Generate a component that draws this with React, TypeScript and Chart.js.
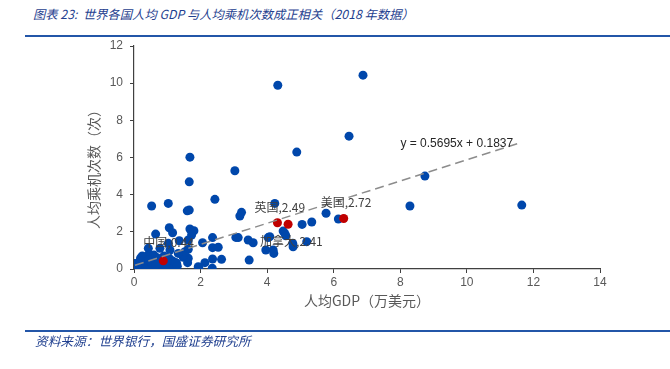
import React, { useEffect, useRef } from "react";
import { Chart, registerables } from "chart.js";

Chart.register(...registerables);

// ---- Data ----
const gdpPerCapita = [
  6.88, 4.32, 6.46, 4.89, 1.68, 1.66, 8.74, 3.03, 2.43, 8.29, 11.65, 4.23, 5.77, 6.14, 0.53, 1.03, 1.6, 1.66, 3.18, 3.23,
  5.05, 5.34, 4.48, 4.53, 4.56, 4.77, 4.78, 5.19, 4.03, 4.08, 3.96, 4.18, 4.2, 3.46, 3.43, 3.58, 3.06, 3.13, 2.36, 2.06,
  2.36, 2.53, 2.36, 2.63, 2.13, 1.95, 1.06, 1.16, 0.65, 1.36, 1.68, 1.8, 1.73, 1.63, 1.63, 1.63, 1.48, 1.28, 1.03, 0.78,
  1.08, 0.43, 0.48, 1.53, 1.33, 1.61, 2.35, 1.93,
  0.05, 0.1, 0.15, 0.2, 0.25, 0.3, 0.35, 0.4, 0.45, 0.5, 0.55, 0.6, 0.65, 0.7, 0.75, 0.8, 0.85, 0.9, 0.95, 1.0,
  1.05, 1.1, 1.15, 1.2, 0.3, 0.2, 0.15, 0.4, 0.55, 0.7, 0.25, 0.6, 0.5, 0.12, 0.08, 0.35, 0.45, 0.75, 0.95, 1.0,
  1.25, 1.3, 0.9, 0.65, 0.18, 0.02,
];
const tripsPerCapita = [
  10.43, 9.89, 7.15, 6.29, 6.02, 4.69, 5.0, 5.29, 3.75, 3.39, 3.44, 3.53, 3.0, 2.69, 3.39, 3.53, 3.13, 3.17, 2.85, 3.05,
  2.4, 2.53, 2.04, 1.92, 1.79, 1.38, 1.2, 1.47, 1.69, 1.74, 1.02, 1.02, 0.84, 0.48, 1.56, 1.41, 1.7, 1.69, 1.69, 1.41,
  1.15, 1.17, 0.54, 0.52, 0.34, 0.04, 2.22, 1.95, 1.88, 1.52, 2.15, 2.06, 1.83, 1.56, 1.06, 0.58, 0.63, 0.31, 1.38, 1.11,
  1.02, 1.11, 0.75, 0.93, 0.84, 0.34, 0.04, 0.12,
  0.02, 0.05, 0.1, 0.03, 0.15, 0.08, 0.2, 0.05, 0.3, 0.12, 0.25, 0.05, 0.4, 0.15, 0.3, 0.08, 0.55, 0.2, 0.35, 0.1,
  0.6, 0.25, 0.45, 0.05, 0.45, 0.6, 0.35, 0.7, 0.55, 0.6, 0.7, 0.75, 0.4, 0.2, 0.12, 0.0, 0.5, 0.02, 0.02, 0.5,
  0.35, 0.15, 0.7, 0.2, 0.45, 0.3,
];

const highlightNames = ["中国", "英国", "美国", "加拿大"];
const highlightGdp = [0.88, 4.31, 6.3, 4.63];
const highlightTrips = [0.44, 2.49, 2.72, 2.41];

const trendSlope = 0.5695;
const trendIntercept = 0.1837;
const trendStartX = 0.03;
const trendEndX = 11.65;

const xTickValues = [0, 2, 4, 6, 8, 10, 12, 14];
const yTickValues = [0, 2, 4, 6, 8, 10, 12];

// ---- Styles ----
const BLUE = "#0047AB";
const RED = "#C00000";
const AXIS = "#404040";
const TEXT = "#595959";
const TITLE_BLUE = "#1F3F8F";
const RULE_BLUE = "#2356A8";
const LABEL_OFFSETS = [
  [-20, -18],
  [-23, -15],
  [-23, -16],
  [-28, 17],
];

export default function App() {
  const canvasRef = useRef<HTMLCanvasElement | null>(null);

  useEffect(() => {
    const canvas = canvasRef.current;
    if (!canvas) return;

    const blueData = gdpPerCapita.map((x, i) => ({ x, y: tripsPerCapita[i] }));
    const redData = highlightGdp.map((x, i) => ({ x, y: highlightTrips[i] }));
    const trendData = [
      { x: trendStartX, y: trendSlope * trendStartX + trendIntercept },
      { x: trendEndX, y: trendSlope * trendEndX + trendIntercept },
    ];

    const annotationPlugin = {
      id: "annotations",
      afterDatasetsDraw(chart: any) {
        const ctx = chart.ctx;
        const xs = chart.scales.x;
        const ys = chart.scales.y;
        ctx.save();
        // point labels
        ctx.font = '12px "Noto Sans CJK SC", "Liberation Sans", sans-serif';
        ctx.fillStyle = "#404040";
        ctx.textBaseline = "middle";
        ctx.textAlign = "left";
        highlightNames.forEach((name, i) => {
          const px = xs.getPixelForValue(highlightGdp[i]);
          const py = ys.getPixelForValue(highlightTrips[i]);
          const [dx, dy] = LABEL_OFFSETS[i];
          ctx.fillText(`${name},${highlightTrips[i].toFixed(2)}`, px + dx, py + dy);
        });
        // trend equation
        ctx.font = '12px "Liberation Sans", sans-serif';
        ctx.fillStyle = "#262626";
        ctx.textAlign = "center";
        const ex = xs.getPixelForValue(trendEndX);
        const ey = ys.getPixelForValue(trendSlope * trendEndX + trendIntercept);
        ctx.fillText(`y = ${trendSlope}x + ${trendIntercept}`, ex - 65, ey + 1);
        // y axis title
        ctx.font = '14px "Noto Sans CJK SC", sans-serif';
        ctx.fillStyle = TEXT;
        ctx.translate(94, 166);
        ctx.rotate(-Math.PI / 2);
        ctx.textAlign = "center";
        ctx.fillText("人均乘机次数（次）", 0, 0);
        ctx.restore();
      },
    };

    const chart = new Chart(canvas, {
      type: "scatter",
      data: {
        datasets: [
          {
            type: "line",
            data: trendData,
            borderColor: "#8C8C8C",
            borderWidth: 1.5,
            borderDash: [9, 5],
            pointRadius: 0,
            fill: false,
            order: 0,
          } as any,
          {
            data: redData,
            backgroundColor: RED,
            borderWidth: 0,
            pointRadius: 4.5,
            order: 1,
          },
          {
            data: blueData,
            backgroundColor: BLUE,
            borderWidth: 0,
            pointRadius: 4.5,
            order: 2,
          },
        ],
      },
      options: {
        responsive: false,
        animation: false,
        devicePixelRatio: 1,
        layout: { padding: { left: 0, top: 46, right: 70, bottom: 0 } },
        plugins: {
          legend: { display: false },
          tooltip: { enabled: false },
        },
        scales: {
          x: {
            type: "linear",
            min: 0,
            max: 14,
            afterBuildTicks: (s: any) => {
              s.ticks = xTickValues.map((v) => ({ value: v }));
            },
            afterFit: (s: any) => {
              s.height = 100;
            },
            ticks: {
              color: TEXT,
              font: { family: '"Liberation Sans", sans-serif', size: 12 },
              padding: 2,
            },
            grid: {
              display: true,
              drawOnChartArea: false,
              drawTicks: true,
              tickLength: 4,
              color: AXIS,
            },
            border: { display: true, color: AXIS, width: 1.2 },
            title: {
              display: true,
              text: "人均GDP（万美元）",
              color: TEXT,
              font: { family: '"Noto Sans CJK SC", sans-serif', size: 14 },
              padding: { top: 0, bottom: 60 },
            },
          },
          y: {
            type: "linear",
            min: 0,
            max: 12,
            afterBuildTicks: (s: any) => {
              s.ticks = yTickValues.map((v) => ({ value: v }));
            },
            afterFit: (s: any) => {
              s.width = 134;
            },
            ticks: {
              color: TEXT,
              font: { family: '"Liberation Sans", sans-serif', size: 12 },
              padding: 7,
            },
            grid: {
              display: true,
              drawOnChartArea: false,
              drawTicks: true,
              tickLength: 4,
              color: AXIS,
            },
            border: { display: true, color: AXIS, width: 1.2 },
          },
        },
      } as any,
      plugins: [annotationPlugin],
    });

    return () => {
      chart.destroy();
    };
  }, []);

  return (
    <div
      style={{
        position: "absolute",
        left: 0,
        top: 0,
        width: 670,
        height: 369,
        background: "#fff",
        overflow: "hidden",
      }}
    >
      <div
        style={{
          position: "absolute",
          left: 33,
          top: 5,
          lineHeight: "18px",
          fontSize: 12.3,
          fontStyle: "italic",
          fontFamily: '"Noto Sans CJK SC", "Liberation Sans", sans-serif',
          color: TITLE_BLUE,
          whiteSpace: "pre",
        }}
      >
        {"图表 23:  世界各国人均 GDP 与人均乘机次数成正相关（2018 年数据）"}
      </div>
      <div style={{ position: "absolute", left: 25, top: 35, width: 645, height: 2, background: RULE_BLUE }} />
      <canvas ref={canvasRef} width={670} height={369} style={{ position: "absolute", left: 0, top: 0, width: 670, height: 369 }} />
      <div style={{ position: "absolute", left: 25, top: 330, width: 645, height: 2, background: RULE_BLUE }} />
      <div
        style={{
          position: "absolute",
          left: 35,
          top: 332,
          lineHeight: "17px",
          fontSize: 12.7,
          fontStyle: "italic",
          fontFamily: '"Noto Sans CJK SC", sans-serif',
          color: TITLE_BLUE,
          whiteSpace: "pre",
        }}
      >
        {"资料来源：世界银行，国盛证券研究所"}
      </div>
    </div>
  );
}
